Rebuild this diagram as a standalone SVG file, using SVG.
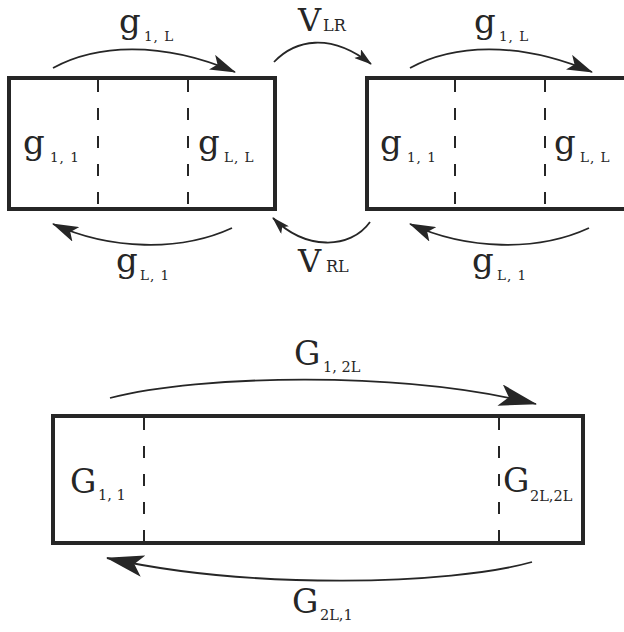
<svg xmlns="http://www.w3.org/2000/svg" width="624" height="632" viewBox="0 0 624 632">
<defs>
<style>
.box{fill:none;stroke:#262626;stroke-width:4}
.dash{stroke:#262626;stroke-width:2;stroke-dasharray:12 16}
.arc{fill:none;stroke:#262626;stroke-width:1.8}
text{font-family:"DejaVu Serif","Liberation Serif",serif;fill:#262626}
.m{font-size:34px}
.mv{font-size:32px}
.mg{font-size:33px}
.s{font-size:13.5px;letter-spacing:1px}
.sv{font-size:16px}
.sg{font-size:14.5px}
</style>
<marker id="am" markerUnits="userSpaceOnUse" markerWidth="26" markerHeight="16" viewBox="0 0 26 16" refX="25" refY="8" orient="auto"><path d="M0,0 L26,8 L0,16 L6,8 Z" fill="#262626"/></marker>
<marker id="av" markerUnits="userSpaceOnUse" markerWidth="18" markerHeight="11" viewBox="0 0 18 11" refX="17" refY="5.5" orient="auto"><path d="M0,0 L18,5.5 L0,11 L4,5.5 Z" fill="#262626"/></marker>
<marker id="ab" markerUnits="userSpaceOnUse" markerWidth="38" markerHeight="22" viewBox="0 0 38 22" refX="37" refY="11" orient="auto"><path d="M0,0 L38,11 L0,22 L9,11 Z" fill="#262626"/></marker>
</defs>

<g id="left-block">
<rect class="box" x="9" y="78" width="266" height="131"/>
<line class="dash" x1="98" y1="80" x2="98" y2="207"/>
<line class="dash" x1="188" y1="80" x2="188" y2="207"/>
<text x="23" y="154"><tspan class="m">g</tspan><tspan class="s" x="50" y="162">1, 1</tspan></text>
<text x="198" y="154"><tspan class="m">g</tspan><tspan class="s" x="224" y="162">L, L</tspan></text>
</g>

<g id="right-block">
<rect class="box" x="367" y="78" width="266" height="131"/>
<line class="dash" x1="455" y1="80" x2="455" y2="207"/>
<line class="dash" x1="545" y1="80" x2="545" y2="207"/>
<text x="380" y="154"><tspan class="m">g</tspan><tspan class="s" x="407" y="162">1, 1</tspan></text>
<text x="554" y="154"><tspan class="m">g</tspan><tspan class="s" x="580" y="162">L, L</tspan></text>
</g>

<g id="combined-block">
<rect class="box" x="53" y="416" width="530" height="127"/>
<line class="dash" x1="144" y1="418" x2="144" y2="541"/>
<line class="dash" x1="499" y1="418" x2="499" y2="541"/>
<text x="70" y="493"><tspan class="mg">G</tspan><tspan class="sg" x="98" y="500">1, 1</tspan></text>
<text x="503" y="492"><tspan class="mg">G</tspan><tspan class="sg" x="530" y="501">2L,2L</tspan></text>
</g>

<g id="connectors">
<path class="arc" d="M53,68 C95,45 160,40 235,72" marker-end="url(#am)"/>
<path class="arc" d="M232,228 C180,252 110,250 53,224" marker-end="url(#am)"/>
<path class="arc" d="M410,68 C452,45 517,40 592,72" marker-end="url(#am)"/>
<path class="arc" d="M589,228 C537,252 467,250 410,224" marker-end="url(#am)"/>
<path class="arc" d="M274,62 C295,40 330,32 371,64" marker-end="url(#av)"/>
<path class="arc" d="M370,222 C350,250 305,250 273,218" marker-end="url(#av)"/>
<path class="arc" d="M110,398 C200,375 400,370 536,404" marker-end="url(#ab)"/>
<path class="arc" d="M532,562 C450,585 250,590 107,558" marker-end="url(#ab)"/>
</g>

<g id="connector-labels">
<text x="119" y="33"><tspan class="m">g</tspan><tspan class="s" x="144" y="41">1, L</tspan></text>
<text x="116" y="272"><tspan class="m">g</tspan><tspan class="s" x="140" y="280">L, 1</tspan></text>
<text x="474" y="33"><tspan class="m">g</tspan><tspan class="s" x="499" y="41">1, L</tspan></text>
<text x="472" y="272"><tspan class="m">g</tspan><tspan class="s" x="497" y="280">L, 1</tspan></text>
<text x="298" y="31"><tspan class="mv">V</tspan><tspan class="sv" x="323" y="31">LR</tspan></text>
<text x="298" y="272"><tspan class="mv">V</tspan><tspan class="sv" x="326" y="272">RL</tspan></text>
<text x="294" y="365"><tspan class="mg">G</tspan><tspan class="sg" x="323" y="372">1, 2L</tspan></text>
<text x="292" y="613"><tspan class="mg">G</tspan><tspan class="sg" x="320" y="620">2L,1</tspan></text>
</g>
</svg>
